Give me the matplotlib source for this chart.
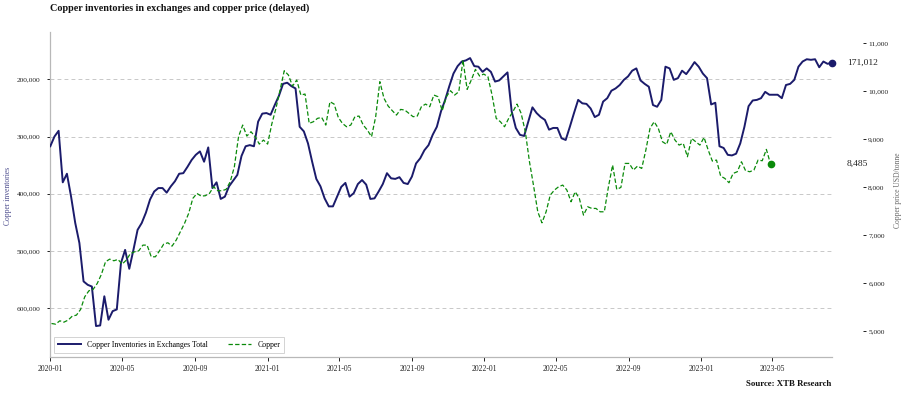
import matplotlib
matplotlib.use("Agg")
import matplotlib.pyplot as plt
import matplotlib.dates as mdates
import matplotlib.transforms as mtransforms
from matplotlib.ticker import FuncFormatter, FixedLocator
import pandas as pd

plt.rcParams['font.family'] = ['Liberation Serif', 'DejaVu Serif']

# ---------------- data ----------------
inventory_start = "2020-01-01"   # weekly observations
inventory_values = [
    317000, 300000, 290000, 380000, 365000, 405000, 451000, 486000, 553000, 559000,
    562000, 631000, 630000, 579000, 620000, 605000, 602000, 521000, 498000, 531000,
    498000, 463000, 451000, 433000, 410000, 396000, 390000, 390000, 398000, 387000,
    378000, 365000, 364000, 353000, 341000, 332000, 326000, 344000, 319000, 390000,
    380000, 409000, 405000, 387000, 377000, 367000, 334000, 317000, 315000,
    317000, 274000, 260000, 259000, 262000, 245000, 229000, 208000, 206000, 212000,
    216000, 283000, 291000, 312000, 344000, 374000, 387000, 408000, 422000, 422000,
    405000, 388000, 381000, 405000, 399000, 383000, 376000, 384000, 409000, 408000,
    396000, 383000, 364000, 373000, 374000, 371000, 381000, 383000, 370000, 347000,
    338000, 324000, 315000, 297000, 283000,
    256000, 236000, 212000, 190000, 177000, 169000, 167000, 163000, 177000, 178000,
    187000, 181000, 187000, 204000, 202000, 195000, 188000, 256000, 285000, 297000,
    299000, 274000, 249000, 259000, 266000, 271000, 288000, 285000, 285000, 303000,
    306000, 283000, 259000, 236000, 242000, 243000, 251000, 266000, 262000, 239000,
    233000, 220000, 216000, 210000, 201000, 195000,
    185000, 181000, 202000, 208000, 213000, 245000, 248000, 236000, 178000, 181000,
    201000, 198000, 185000, 191000, 181000, 170000, 178000, 190000, 198000, 244000,
    241000, 317000, 320000, 332000, 333000, 330000, 312000, 283000, 247000, 237000,
    236000, 233000, 222000, 227000, 227000, 227000, 233000, 210000, 208000, 201000,
    178000, 169000, 165000, 166000, 165000, 179000, 169000, 173000, 171012,
]

copper_start = "2020-01-03"      # weekly observations (delayed price)
copper_values = [
    5166, 5152, 5222, 5194, 5236, 5319, 5340, 5458, 5722, 5847,
    5874, 5999, 6187, 6451, 6506, 6472, 6500, 6402, 6486, 6624,
    6659, 6680, 6798, 6798, 6555, 6555, 6680, 6819, 6847, 6777,
    6902, 7076, 7249, 7458, 7770, 7874, 7819, 7826, 7874, 8013,
    7930, 7930, 7958, 8117, 8430, 9055, 9298, 9069, 9159,
    9055, 8902, 8986, 8902, 9319, 9645, 10027, 10430, 10340, 10110,
    10235, 9923, 9944, 9333, 9367, 9437, 9458, 9298, 9784, 9735,
    9458, 9333, 9263, 9298, 9472, 9485, 9298, 9194, 9055, 9472,
    10201, 9854, 9694, 9597, 9506, 9624, 9610, 9541, 9472, 9485,
    9680, 9735, 9680, 9923, 9888,
    9597, 9888, 10013, 9923, 9992, 10650, 10041, 10235, 10458, 10319,
    10360, 10305, 9923, 9437, 9367, 9263, 9437, 9576, 9735, 9541,
    9159, 8534, 8027, 7492, 7263, 7492, 7840, 7944, 8013, 8048,
    7944, 7701, 7909, 7770, 7423, 7597, 7562, 7562, 7492, 7492,
    8013, 8465, 7958, 8000, 8499, 8499,
    8361, 8444, 8395, 8777, 9229, 9367, 9229, 8951, 8895, 9159,
    8986, 8881, 8916, 8638, 9020, 8951, 8881, 9041, 8777, 8548,
    8569, 8236, 8187, 8097, 8291, 8326, 8534, 8347, 8326, 8361,
    8569, 8555, 8791, 8485,
]

left_ticks = [200000, 300000, 400000, 500000, 600000]
right_ticks = [5000, 6000, 7000, 8000, 9000, 10000, 11000]

title = "Copper inventories in exchanges and copper price (delayed)"
source = "Source: XTB Research"
inv_label = "Copper Inventories in Exchanges Total"
cu_label = "Copper"

inv_dates = pd.date_range(inventory_start, periods=len(inventory_values), freq="7D")
cu_dates = pd.date_range(copper_start, periods=len(copper_values), freq="7D")

# ---------------- figure ----------------
W, H = 908, 395
fig = plt.figure(figsize=(W / 100, H / 100), dpi=100)
ax = fig.add_axes([50.3 / W, 1 - 357.3 / H, 781.4 / W, 325.6 / H])
ax2 = ax.twinx()

navy = "#1b1b6b"
green = "#0a8a0a"
tick_col = "#222222"

l1, = ax.plot(inv_dates, inventory_values, color=navy, lw=1.4, label=inv_label, zorder=3)
ax.plot(inv_dates[-1:], inventory_values[-1:], 'o', color=navy, ms=4.5, zorder=4,
        clip_on=False)
l2, = ax2.plot(cu_dates, copper_values, color=green, lw=0.9, ls=(0, (3.5, 1.8)), label=cu_label)
ax2.plot(cu_dates[-1:], copper_values[-1:], 'o', color=green, ms=4.5)

ax.set_xlim(inv_dates[0], inv_dates[-1])
ax.set_ylim(685600, 116900)
ax2.set_ylim(4462, 11242)

# x axis
ax.xaxis.set_major_locator(mdates.MonthLocator(bymonth=[1, 5, 9]))
ax.xaxis.set_major_formatter(mdates.DateFormatter('%Y-%m'))
ax.tick_params(axis='x', length=3, width=0.7, pad=2.5, labelsize=5.5, colors=tick_col)

# left axis
ax.yaxis.set_major_locator(FixedLocator(left_ticks))
ax.yaxis.set_major_formatter(FuncFormatter(lambda v, p: f"{v:,.0f}"))
ax.tick_params(axis='y', length=2.2, width=0.7, pad=5, labelsize=5.3, colors=tick_col)
ax.yaxis.grid(True, color="#c8c8c8", lw=0.7, ls=(0, (4, 3.2)))
ax.set_axisbelow(True)

for s in ['top', 'right']:
    ax.spines[s].set_visible(False)
for s in ['left', 'bottom']:
    ax.spines[s].set_color("#b8b8b8")
    ax.spines[s].set_linewidth(0.9)

# right axis (offset, no spine)
for s in ax2.spines.values():
    s.set_visible(False)
ax2.spines['right'].set_position(('outward', 22.3))
ax2.yaxis.set_major_locator(FixedLocator(right_ticks))
ax2.yaxis.set_major_formatter(FuncFormatter(lambda v, p: f"{v:,.0f}"))
ax2.tick_params(axis='y', length=2.5, width=0.7, pad=1.5, labelsize=5.3, colors=tick_col)

# end value labels
tr = mtransforms.blended_transform_factory(ax.transAxes, ax.transData)
ax.text(1.0195, inventory_values[-1], f"{inventory_values[-1]:,.0f}", transform=tr,
        ha='left', va='center', fontsize=6.8, color=tick_col, clip_on=False)
tr2 = mtransforms.blended_transform_factory(ax2.transAxes, ax2.transData)
ax2.text(1.0195, copper_values[-1], f"{copper_values[-1]:,.0f}", transform=tr2,
         ha='left', va='center', fontsize=6.8, color=tick_col, clip_on=False)

# legend
leg = ax2.legend([l1, l2], [inv_label, cu_label], loc='lower left', ncol=2,
                 bbox_to_anchor=(0.0047, 0.013), borderaxespad=0, fontsize=5.6,
                 frameon=True, fancybox=False, edgecolor="#c8c8c8",
                 handlelength=3.0, columnspacing=2.5, borderpad=0.5, handletextpad=0.8)
leg.get_frame().set_linewidth(0.7)

# texts
fig.text(50 / W, 1 - 8.5 / H, title, ha='left', va='center', fontsize=7.3,
         fontweight='bold', color='#111111')
fig.text(831.5 / W, 1 - 384 / H, source, ha='right', va='center', fontsize=6.3,
         fontweight='bold', color='#111111')
fig.text(8 / W, 1 - 196 / H, "Copper inventories", rotation=90, ha='center', va='center',
         fontsize=5.5, color='#4a4a8c')
fig.text(897.7 / W, 1 - 190 / H, "Copper price USD/tonne", rotation=90, ha='center',
         va='center', fontsize=5.5, color='#666666')

fig.savefig("out.png", dpi=100)
